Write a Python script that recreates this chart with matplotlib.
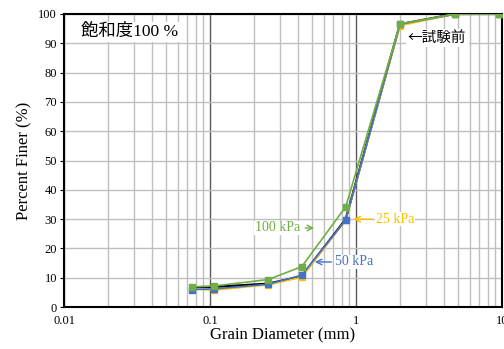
import numpy as np
import matplotlib.pyplot as plt
from matplotlib.ticker import FixedLocator, NullFormatter

# sieve sizes (mm)
sizes = [0.075, 0.106, 0.25, 0.425, 0.85, 2.0, 4.75, 9.5]

# percent finer for each condition
before = [6.8, 6.9, 8.0, 10.5, 30.0, 96.5, 100, 100]
kpa25 = [6.2, 5.8, 7.6, 10.2, 29.7, 96.0, 100, 100]
kpa50 = [6.0, 6.2, 7.8, 10.9, 29.7, 96.5, 100, 100]
kpa100 = [6.9, 7.2, 9.4, 13.8, 34.2, 96.6, 100, 100]

serif = ['Liberation Serif', 'Noto Sans CJK JP']
plt.rcParams['font.family'] = serif

fig = plt.figure(figsize=(5.04, 3.49), dpi=100)
ax = fig.add_axes([0.127, 0.120, 0.869, 0.840])

ax.plot(sizes, before, color='black', lw=1.6, zorder=3)
ax.plot(sizes, kpa25, color='#FFC000', lw=1.2, marker='^', ms=4, zorder=4)
ax.plot(sizes, kpa50, color='#4472C4', lw=1.2, marker='s', ms=4, zorder=5)
ax.plot(sizes, kpa100, color='#70AD47', lw=1.2, marker='s', ms=5, zorder=6)

ax.set_xscale('log')
ax.set_xlim(0.01, 10)
ax.set_ylim(0, 100)
ax.set_yticks(np.arange(0, 101, 10))
ax.set_xticks([0.01, 0.1, 1, 10])
ax.set_xticklabels(['0.01', '0.1', '1', '10'])
minors = [m * d for d in [0.01, 0.1, 1] for m in range(2, 10)]
ax.xaxis.set_minor_locator(FixedLocator(minors))
ax.xaxis.set_minor_formatter(NullFormatter())

ax.grid(True, which='major', axis='x', color='#595959', lw=1.0, zorder=1)
ax.grid(True, which='minor', axis='x', color='#BFBFBF', lw=1.0, zorder=1)
ax.grid(True, which='major', axis='y', color='#BFBFBF', lw=1.0, zorder=1)
ax.set_axisbelow(True)

ax.tick_params(axis='x', which='both', length=0, labelsize=9, pad=6)
ax.tick_params(axis='y', length=3, labelsize=9, pad=2)
for s in ax.spines.values():
    s.set_linewidth(1.5)

ax.set_xlabel('Grain Diameter (mm)', fontsize=12, labelpad=0)
ax.set_ylabel('Percent Finer (%)', fontsize=12, labelpad=4)

ax.text(0.039, 0.939, '飽和度100 %', transform=ax.transAxes, fontsize=12.5,
        va='center', ha='left', zorder=10,
        bbox=dict(facecolor='white', edgecolor='none', pad=1.5))
ax.text(2.27, 91.8, '←試験前', fontsize=10.5, va='center', ha='left', zorder=10,
        family=['Noto Sans CJK JP'],
        bbox=dict(facecolor='white', edgecolor='none', pad=1.5))

# 100 kPa
ax.text(0.415, 27, '100 kPa', color='#70AD47', fontsize=10, va='center', ha='right',
        zorder=10, bbox=dict(facecolor='white', edgecolor='none', pad=0.5))
ax.annotate('', xy=(0.54, 27), xytext=(0.43, 27),
            arrowprops=dict(arrowstyle='->', color='#70AD47', lw=1), zorder=10)
# 25 kPa
ax.text(1.37, 30, '25 kPa', color='#FFC000', fontsize=10, va='center', ha='left',
        zorder=10, bbox=dict(facecolor='white', edgecolor='none', pad=0.5))
ax.annotate('', xy=(0.92, 30), xytext=(1.35, 30),
            arrowprops=dict(arrowstyle='->', color='#FFC000', lw=1), zorder=10)
# 50 kPa
ax.text(0.72, 15.4, '50 kPa', color='#4472C4', fontsize=10, va='center', ha='left',
        zorder=10, bbox=dict(facecolor='white', edgecolor='none', pad=0.5))
ax.annotate('', xy=(0.50, 15.4), xytext=(0.71, 15.4),
            arrowprops=dict(arrowstyle='->', color='#4472C4', lw=1), zorder=10)

fig.savefig('out.png', dpi=100)
